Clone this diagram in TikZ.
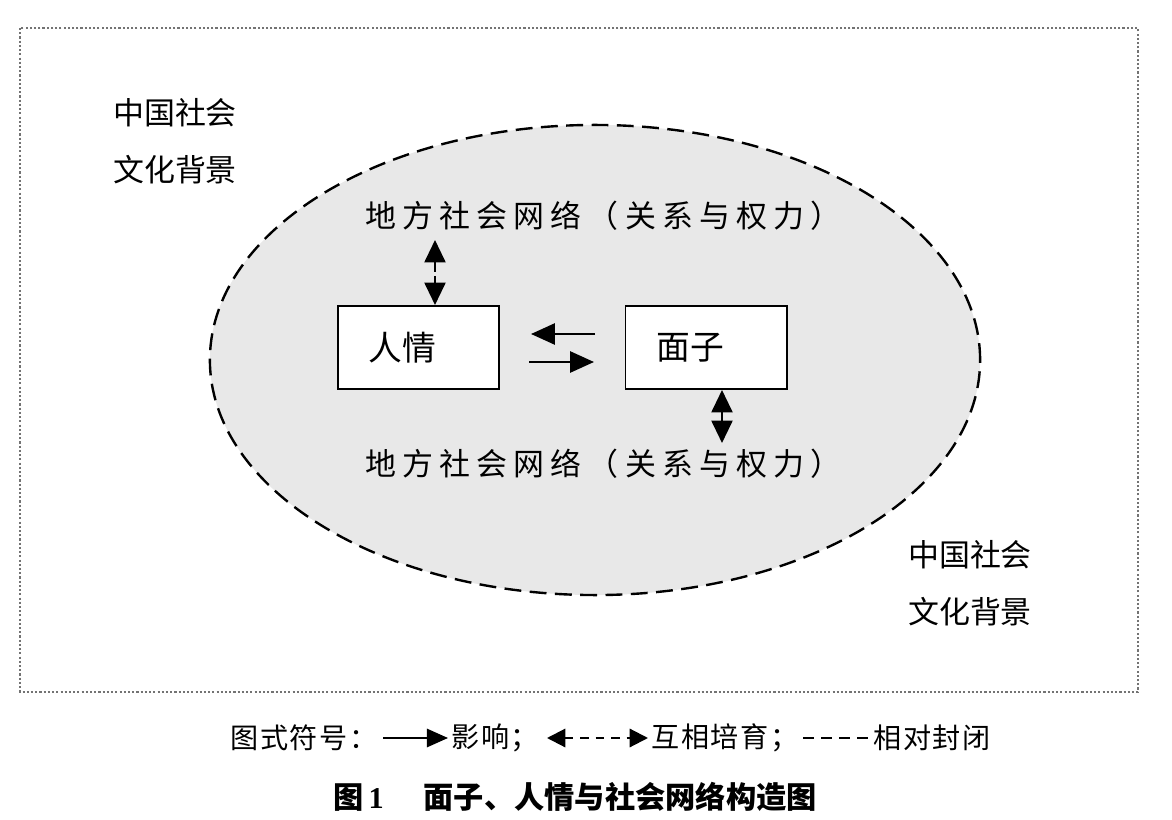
\documentclass[tikz,border=0pt]{standalone}
\usepackage{fontspec}
\setmainfont{Liberation Serif}
\newfontfamily\cjk{Noto Sans CJK SC}
\newfontfamily\cjkwide[LetterSpace=20]{Noto Sans CJK SC}
\newfontfamily\cjkleg[LetterSpace=6]{Noto Sans CJK SC}
\usetikzlibrary{arrows.meta,shapes.geometric}
\begin{document}
\begin{tikzpicture}[x=0.025cm,y=-0.025cm,
  lbl/.style={inner sep=0pt,font=\fontsize{22pt}{30pt}\selectfont\cjk},
  netlbl/.style={inner sep=0pt,anchor=west,font=\fontsize{22pt}{30pt}\selectfont\cjkwide},
  boxn/.style={draw,line width=1.4pt,fill=white,minimum width=4.025cm,minimum height=2.075cm,inner sep=0pt,font=\fontsize{24pt}{30pt}\selectfont\cjk},
  ctx/.style={ellipse,draw,line width=1.7pt,dash pattern=on 12pt off 6pt,fill=black!9,minimum width=19.25cm,minimum height=11.75cm,inner sep=0pt},
  big/.style={line width=1.6pt,-{Triangle[length=17pt,width=15pt]}},
  dbl/.style={line width=1.6pt,{Triangle[length=16pt,width=15pt]}-{Triangle[length=16pt,width=15pt]},dash pattern=on 7pt off 3pt},
  leg/.style={inner sep=0pt,anchor=west,font=\fontsize{20pt}{24pt}\selectfont\cjkleg},
  legarrow/.style={line width=1.5pt,-{Triangle[length=15pt,width=13pt]}},
  legdbl/.style={line width=1.5pt,{Triangle[length=13pt,width=13pt]}-{Triangle[length=13pt,width=13pt]},dash pattern=on 6pt off 5pt},
  legdash/.style={line width=1.6pt,dash pattern=on 7.8pt off 5pt}
]
\useasboundingbox (0,0) rectangle (1172,820);
\fill[white] (0,0) rectangle (1172,820);
% outer frame
\draw[black!55,line width=1.5pt,dash pattern=on 1.5pt off 1.5pt] (20,28) rectangle (1138,692);
% context ellipse
\node[ctx] (ctxell) at (595,360) {};
% culture labels
\node[lbl] (cult1a) at (175,113) {中国社会};
\node[lbl] (cult1b) at (175,170) {文化背景};
\node[lbl] (cult2a) at (970,555) {中国社会};
\node[lbl] (cult2b) at (970,612) {文化背景};
% network labels
\node[netlbl] (net1) at (365,216) {地方社会网络（关系与权力）};
\node[netlbl] (net2) at (365,464) {地方社会网络（关系与权力）};
% boxes
\node[boxn] (renqing) at (418.5,347.5) {人情\rule{0.8cm}{0pt}};
\node[boxn] (mianzi) at (706,347.5) {面子\rule{0.8cm}{0pt}};
% connectors
\coordinate (t1) at (435,240);
\coordinate (t2) at (722,443);
\draw[dbl] (t1) -- (renqing.north -| t1);
\draw[dbl] (mianzi.south -| t2) -- (t2);
\coordinate (la) at (595,334);
\coordinate (lb) at (531,334);
\coordinate (ra) at (529,362);
\coordinate (rb) at (594,362);
\draw[big] (la) -- (lb);
\draw[big] (ra) -- (rb);
% legend
\node[leg] (lg1) at (230,738) {图式符号：};
\coordinate (lga) at (383,738);
\coordinate (lgb) at (448,738);
\draw[legarrow] (lga) -- (lgb);
\node[leg] (lg2) at (451,738) {影响；};
\coordinate (lgc) at (547,738);
\coordinate (lgd) at (648,738);
\draw[legdbl] (lgc) -- (lgd);
\node[leg] (lg3) at (651,738) {互相培育；};
\coordinate (lge) at (803,738);
\coordinate (lgf) at (868,738);
\draw[legdash] (lge) -- (lgf);
\node[leg] (lg4) at (873,738) {相对封闭};
% caption
\node[inner sep=0pt,anchor=west,font=\fontsize{21.5pt}{26pt}\selectfont\cjk\bfseries] (cap) at (333,797) {图\,{\rmfamily\bfseries 1}\rule{1.0cm}{0pt}面子、人情与社会网络构造图};
\end{tikzpicture}
\end{document}
